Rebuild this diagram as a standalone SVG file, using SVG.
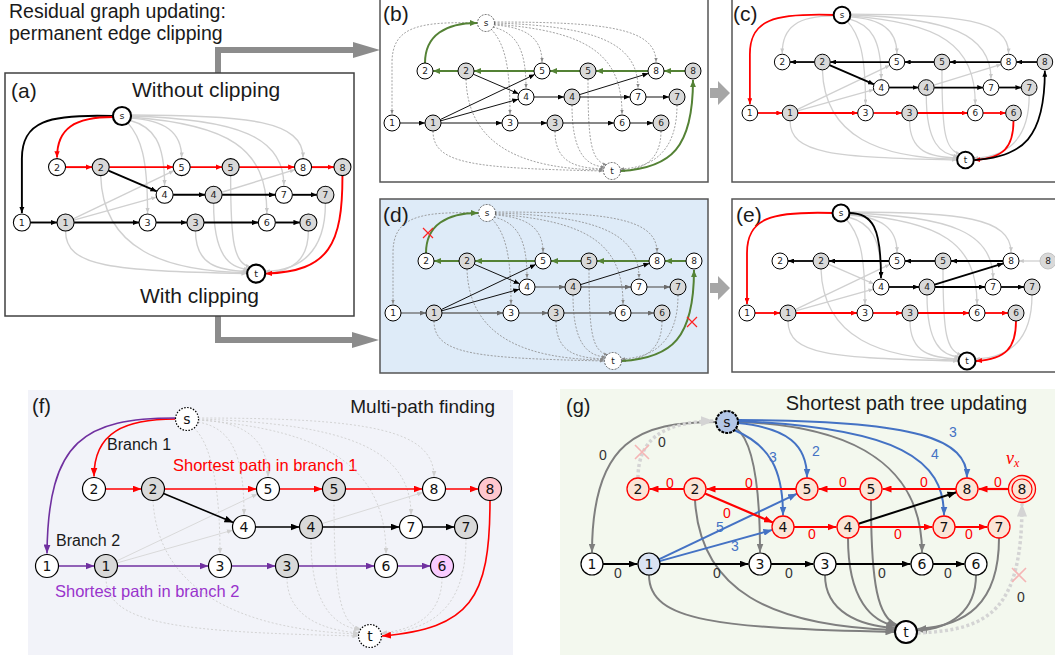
<svg xmlns="http://www.w3.org/2000/svg" width="1055" height="655" viewBox="0 0 1055 655">
<defs>
<style>
.t{font-family:"Liberation Sans",Arial,sans-serif;fill:#1a1a1a}
.nl{font-family:"DejaVu Sans",sans-serif;font-size:9px;text-anchor:middle;fill:#222}
.nL{font-family:"DejaVu Sans",sans-serif;font-size:14px;text-anchor:middle;fill:#111}
.el{font-family:"Liberation Sans",Arial,sans-serif;font-size:14px;text-anchor:middle}
.w{fill:#fff;stroke:#000;stroke-width:1}
.gy{fill:#d9d9d9;stroke:#000;stroke-width:1}
.thk{fill:#fff;stroke:#000;stroke-width:2}
.dsn{fill:#fff;stroke:#444;stroke-width:0.8;stroke-dasharray:2 1.2}
.lt{fill:none;stroke:#d0d0d0;stroke-width:1.3;marker-end:url(#ml)}
.dg{fill:none;stroke:#8c8c8c;stroke-width:0.8;stroke-dasharray:2 1.5;marker-end:url(#md)}
.bk{fill:none;stroke:#000;stroke-width:1.8;marker-end:url(#mk)}
.bk1{fill:none;stroke:#111;stroke-width:1;marker-end:url(#mk)}
.dk{fill:none;stroke:#6a6a6a;stroke-width:1.3;marker-end:url(#mdk)}
.rd{fill:none;stroke:#f00;stroke-width:1.8;marker-end:url(#mr)}
.gr{fill:none;stroke:#548235;stroke-width:2;marker-end:url(#mg)}
.Lrd{fill:none;stroke:#f00;stroke-width:1.6;marker-end:url(#MR)}
.Lpu{fill:none;stroke:#7030a0;stroke-width:1.6;marker-end:url(#MP)}
.Lbk{fill:none;stroke:#000;stroke-width:1.6;marker-end:url(#MK)}
.Llt{fill:none;stroke:#d6d6d6;stroke-width:0.9;marker-end:url(#ML)}
.Ldt{fill:none;stroke:#cfcfcf;stroke-width:0.9;stroke-dasharray:2 2;marker-end:url(#ML)}
.Gr{fill:none;stroke:#f00;stroke-width:2.2;marker-end:url(#MR)}
.Gb{fill:none;stroke:#4472c4;stroke-width:2;marker-end:url(#MB)}
.Gk{fill:none;stroke:#000;stroke-width:2;marker-end:url(#MK)}
.Gg{fill:none;stroke:#7f7f7f;stroke-width:2;marker-end:url(#MG)}
.Gd{fill:none;stroke:#d4d4d4;stroke-width:3.5;stroke-dasharray:3 2.5;marker-end:url(#GL)}
.x{stroke:#f22;stroke-width:1.2;fill:none}
.px{stroke:#f5b5b5;stroke-width:1.6;fill:none}
.rn{fill:#fbe5d6;stroke:#f00;stroke-width:1.3}
.fn{fill:#fff;stroke:#000;stroke-width:1.2}
.fg{fill:#d9d9d9;stroke:#000;stroke-width:1.2}
.fd{fill:#fff;stroke:#000;stroke-width:1.2;stroke-dasharray:1.5 1.5}
</style>
<marker id="mk" viewBox="0 0 6 5" refX="6" refY="2.5" markerWidth="6" markerHeight="5" markerUnits="userSpaceOnUse" orient="auto"><path d="M0,0 L6,2.5 L0,5z" fill="#000"/></marker>
<marker id="mr" viewBox="0 0 6 5" refX="6" refY="2.5" markerWidth="6" markerHeight="5" markerUnits="userSpaceOnUse" orient="auto"><path d="M0,0 L6,2.5 L0,5z" fill="#f00"/></marker>
<marker id="mg" viewBox="0 0 6 5" refX="6" refY="2.5" markerWidth="7" markerHeight="6" markerUnits="userSpaceOnUse" orient="auto"><path d="M0,0 L6,2.5 L0,5z" fill="#548235"/></marker>
<marker id="ml" viewBox="0 0 6 5" refX="6" refY="2.5" markerWidth="5" markerHeight="4" markerUnits="userSpaceOnUse" orient="auto"><path d="M0,0 L6,2.5 L0,5z" fill="#c8c8c8"/></marker>
<marker id="md" viewBox="0 0 6 5" refX="6" refY="2.5" markerWidth="4" markerHeight="3.5" markerUnits="userSpaceOnUse" orient="auto"><path d="M0,0 L6,2.5 L0,5z" fill="#888"/></marker>
<marker id="mdk" viewBox="0 0 6 5" refX="6" refY="2.5" markerWidth="6" markerHeight="5" markerUnits="userSpaceOnUse" orient="auto"><path d="M0,0 L6,2.5 L0,5z" fill="#6a6a6a"/></marker>
<marker id="MK" viewBox="0 0 9 7" refX="9" refY="3.5" markerWidth="9" markerHeight="7" markerUnits="userSpaceOnUse" orient="auto"><path d="M0,0 L9,3.5 L0,7z" fill="#000"/></marker>
<marker id="MR" viewBox="0 0 9 7" refX="9" refY="3.5" markerWidth="9" markerHeight="7" markerUnits="userSpaceOnUse" orient="auto"><path d="M0,0 L9,3.5 L0,7z" fill="#f00"/></marker>
<marker id="MP" viewBox="0 0 9 7" refX="9" refY="3.5" markerWidth="9" markerHeight="7" markerUnits="userSpaceOnUse" orient="auto"><path d="M0,0 L9,3.5 L0,7z" fill="#7030a0"/></marker>
<marker id="ML" viewBox="0 0 9 7" refX="9" refY="3.5" markerWidth="6" markerHeight="5" markerUnits="userSpaceOnUse" orient="auto"><path d="M0,0 L9,3.5 L0,7z" fill="#cfcfcf"/></marker>
<marker id="MB" viewBox="0 0 9 7" refX="9" refY="3.5" markerWidth="9" markerHeight="7" markerUnits="userSpaceOnUse" orient="auto"><path d="M0,0 L9,3.5 L0,7z" fill="#4472c4"/></marker>
<marker id="MG" viewBox="0 0 9 7" refX="9" refY="3.5" markerWidth="9" markerHeight="7" markerUnits="userSpaceOnUse" orient="auto"><path d="M0,0 L9,3.5 L0,7z" fill="#7f7f7f"/></marker>
<marker id="GL" viewBox="0 0 9 7" refX="9" refY="3.5" markerWidth="13" markerHeight="11" markerUnits="userSpaceOnUse" orient="auto"><path d="M0,0 L9,3.5 L0,7z" fill="#d4d4d4"/></marker>
<g id="GS">
<path d="M8,2 C40,4 56,15 56,39"/>
<path d="M7,4 C30,10 40,25 40,65"/>
<path d="M5,6 C18,20 24,40 24,91"/>
<path d="M8,-1 C120,-1 170,5 170,39"/>
<path d="M8,0 C110,3 152,20 152,65"/>
<path d="M8,1 C100,8 136,30 136,91"/>
</g>
<g id="GT">
<path d="M-53,108 C-53,142 -10,145 117,148"/>
<path d="M-20,56 C-18,125 40,146 117,147"/>
<path d="M69,108 C69,140 90,145 118,146"/>
<path d="M86,82 C86,130 100,143 119,144"/>
<path d="M102,56 C102,120 105,138 121,142"/>
<path d="M191,82 C191,130 165,145 134,146"/>
</g>
<g id="R48R"><path d="M-53,48 L-28,48"/><path d="M-12,48 L48,48"/><path d="M64,48 L94,48"/><path d="M110,48 L162,48"/><path d="M178,48 L199,48"/></g>
<g id="R48L"><path d="M162,48 L110,48"/><path d="M94,48 L64,48"/><path d="M48,48 L-12,48"/><path d="M-28,48 L-53,48"/></g>
<g id="R74"><path d="M48,74 L78,74"/><path d="M94,74 L144,74"/><path d="M160,74 L183,74"/></g>
<g id="R100"><path d="M-86,100 L-61,100"/><path d="M-45,100 L16,100"/><path d="M32,100 L61,100"/><path d="M77,100 L128,100"/><path d="M144,100 L167,100"/></g>
<g id="D1"><path d="M-45.8,96.6 L48.8,51.4"/><path d="M-45.3,97.8 L32.3,76.2"/></g>
</defs>

<rect width="1055" height="655" fill="#fff"/>

<!-- title and panel arrows -->
<text class="t" x="9" y="18" font-size="19.5">Residual graph updating:</text>
<text class="t" x="9" y="40" font-size="19.5">permanent edge clipping</text>
<g id="panel-arrows">
<path d="M218,73 V50 H356" stroke="#8c8c8c" stroke-width="6" fill="none"/>
<path d="M353,42 L380,50 L353,58z" fill="#8c8c8c"/>
<path d="M218,316 V340 H355" stroke="#8c8c8c" stroke-width="6" fill="none"/>
<path d="M352,332 L379,340 L352,348z" fill="#8c8c8c"/>
<path d="M710,88 L718,88 L718,81 L730,93 L718,105 L718,98 L710,98z" fill="#a6a6a6"/>
<path d="M710,283 L718,283 L718,276 L730,288 L718,300 L718,293 L710,293z" fill="#a6a6a6"/>
</g>

<!-- panel a -->
<rect x="5" y="73" width="349" height="243" fill="#fff" stroke="#404040" stroke-width="1.5"/>
<text class="t" x="11" y="98" font-size="21">(a)</text>
<text class="t" x="132" y="97" font-size="21">Without clipping</text>
<text class="t" x="140" y="303" font-size="21">With clipping</text>
<g id="panel-a" transform="translate(122,116) scale(1.065)">
<g id="a-connectors">
<use href="#GS" class="lt"/>
<use href="#GT" class="lt"/>
<path class="lt" d="M175,108 C175,135 160,146 135,148"/>
<use href="#D1" class="lt"/>
<path class="lt" d="M93.6,71.6 L162.4,50.4"/>
<path class="bk" d="M-8,0 C-70,-2 -94,5 -94,40 L-94,91"/>
<path class="rd" d="M-8,1 C-45,1 -61,12 -61,39"/>
<path class="bk" d="M-12.7,51.2 L32.7,70.8"/>
<use href="#R48R" class="rd"/>
<use href="#R74" class="bk"/>
<use href="#R100" class="bk"/>
<path class="rd" d="M207,56 C207,120 195,146 135,148"/>
</g>
<g id="a-s"><circle class="thk" cx="0" cy="0" r="8.5"/><text class="nl" x="0" y="3.2" font-size="10">s</text></g>
<g id="a-2w"><circle class="w" cx="-61" cy="48" r="8"/><text class="nl" x="-61" y="51.2">2</text></g>
<g id="a-2g"><circle class="gy" cx="-20" cy="48" r="8"/><text class="nl" x="-20" y="51.2">2</text></g>
<g id="a-5w"><circle class="w" cx="56" cy="48" r="8"/><text class="nl" x="56" y="51.2">5</text></g>
<g id="a-5g"><circle class="gy" cx="102" cy="48" r="8"/><text class="nl" x="102" y="51.2">5</text></g>
<g id="a-8w"><circle class="w" cx="170" cy="48" r="8"/><text class="nl" x="170" y="51.2">8</text></g>
<g id="a-8g"><circle class="gy" cx="207" cy="48" r="8"/><text class="nl" x="207" y="51.2">8</text></g>
<g id="a-4w"><circle class="w" cx="40" cy="74" r="8"/><text class="nl" x="40" y="77.2">4</text></g>
<g id="a-4g"><circle class="gy" cx="86" cy="74" r="8"/><text class="nl" x="86" y="77.2">4</text></g>
<g id="a-7w"><circle class="w" cx="152" cy="74" r="8"/><text class="nl" x="152" y="77.2">7</text></g>
<g id="a-7g"><circle class="gy" cx="191" cy="74" r="8"/><text class="nl" x="191" y="77.2">7</text></g>
<g id="a-1w"><circle class="w" cx="-94" cy="100" r="8"/><text class="nl" x="-94" y="103.2">1</text></g>
<g id="a-1g"><circle class="gy" cx="-53" cy="100" r="8"/><text class="nl" x="-53" y="103.2">1</text></g>
<g id="a-3w"><circle class="w" cx="24" cy="100" r="8"/><text class="nl" x="24" y="103.2">3</text></g>
<g id="a-3g"><circle class="gy" cx="69" cy="100" r="8"/><text class="nl" x="69" y="103.2">3</text></g>
<g id="a-6w"><circle class="w" cx="136" cy="100" r="8"/><text class="nl" x="136" y="103.2">6</text></g>
<g id="a-6g"><circle class="gy" cx="175" cy="100" r="8"/><text class="nl" x="175" y="103.2">6</text></g>
<g id="a-t"><circle class="thk" cx="126" cy="148" r="8.5"/><text class="nl" x="126" y="151.2" font-size="10">t</text></g>
</g>

<!-- panel b -->
<rect x="380" y="-1" width="328" height="183" fill="#fff" stroke="#555" stroke-width="1.5"/>
<text class="t" x="383" y="21" font-size="21">(b)</text>
<g id="panel-b" transform="translate(486,23)">
<g id="b-connectors">
<path class="dg" d="M-8,0 C-70,-2 -94,5 -94,40 L-94,91"/>
<use href="#GS" class="dg"/>
<use href="#GT" class="dg"/>
<path class="dg" d="M175,108 C175,135 160,146 135,148"/>
<use href="#D1" class="bk1"/>
<path class="bk1" d="M93.6,71.6 L162.4,50.4"/>
<path class="bk1" d="M-12.7,51.2 L32.7,70.8"/>
<use href="#R74" class="bk1"/>
<use href="#R100" class="bk1"/>
<use href="#R48L" class="gr"/>
<path class="gr" d="M199,48 L178,48"/>
<path class="gr" d="M-61,40 C-61,12 -40,0 -9,0"/>
<path class="gr" d="M135,148 C185,145 207,125 207,57"/>
</g>
<g id="b-s"><circle class="dsn" cx="0" cy="0" r="8.5"/><text class="nl" x="0" y="3.2" font-size="10">s</text></g>
<g id="b-2w"><circle class="w" cx="-61" cy="48" r="8"/><text class="nl" x="-61" y="51.2">2</text></g>
<g id="b-2g"><circle class="gy" cx="-20" cy="48" r="8"/><text class="nl" x="-20" y="51.2">2</text></g>
<g id="b-5w"><circle class="w" cx="56" cy="48" r="8"/><text class="nl" x="56" y="51.2">5</text></g>
<g id="b-5g"><circle class="gy" cx="102" cy="48" r="8"/><text class="nl" x="102" y="51.2">5</text></g>
<g id="b-8w"><circle class="w" cx="170" cy="48" r="8"/><text class="nl" x="170" y="51.2">8</text></g>
<g id="b-8g"><circle class="gy" cx="207" cy="48" r="8"/><text class="nl" x="207" y="51.2">8</text></g>
<g id="b-4w"><circle class="w" cx="40" cy="74" r="8"/><text class="nl" x="40" y="77.2">4</text></g>
<g id="b-4g"><circle class="gy" cx="86" cy="74" r="8"/><text class="nl" x="86" y="77.2">4</text></g>
<g id="b-7w"><circle class="w" cx="152" cy="74" r="8"/><text class="nl" x="152" y="77.2">7</text></g>
<g id="b-7g"><circle class="gy" cx="191" cy="74" r="8"/><text class="nl" x="191" y="77.2">7</text></g>
<g id="b-1w"><circle class="w" cx="-94" cy="100" r="8"/><text class="nl" x="-94" y="103.2">1</text></g>
<g id="b-1g"><circle class="gy" cx="-53" cy="100" r="8"/><text class="nl" x="-53" y="103.2">1</text></g>
<g id="b-3w"><circle class="w" cx="24" cy="100" r="8"/><text class="nl" x="24" y="103.2">3</text></g>
<g id="b-3g"><circle class="gy" cx="69" cy="100" r="8"/><text class="nl" x="69" y="103.2">3</text></g>
<g id="b-6w"><circle class="w" cx="136" cy="100" r="8"/><text class="nl" x="136" y="103.2">6</text></g>
<g id="b-6g"><circle class="gy" cx="175" cy="100" r="8"/><text class="nl" x="175" y="103.2">6</text></g>
<g id="b-t"><circle class="dsn" cx="126" cy="148" r="8.5"/><text class="nl" x="126" y="151.2" font-size="10">t</text></g>
</g>

<!-- panel c -->
<rect x="732" y="-1" width="330" height="183" fill="#fff" stroke="#555" stroke-width="1.5"/>
<text class="t" x="733" y="21" font-size="21">(c)</text>
<g id="panel-c" transform="translate(842,15) scale(0.98)">
<g id="c-connectors">
<path class="lt" d="M-8,1 C-45,1 -61,12 -61,39"/>
<use href="#GS" class="lt"/>
<use href="#GT" class="lt"/>
<use href="#D1" class="lt"/>
<path class="lt" d="M93.6,71.6 L162.4,50.4"/>
<path class="rd" d="M-8,0 C-70,-2 -94,5 -94,40 L-94,91"/>
<use href="#R48L" class="bk"/>
<path class="bk" d="M199,48 L178,48"/>
<path class="bk" d="M-12.7,51.2 L32.7,70.8"/>
<use href="#R74" class="bk"/>
<use href="#R100" class="rd"/>
<path class="rd" d="M175,108 C175,135 165,146 135,148"/>
<path class="bk" d="M135,148 C185,145 207,125 207,57"/>
</g>
<g id="c-s"><circle class="thk" cx="0" cy="0" r="8.5"/><text class="nl" x="0" y="3.2" font-size="10">s</text></g>
<g id="c-2w"><circle class="w" cx="-61" cy="48" r="8"/><text class="nl" x="-61" y="51.2">2</text></g>
<g id="c-2g"><circle class="gy" cx="-20" cy="48" r="8"/><text class="nl" x="-20" y="51.2">2</text></g>
<g id="c-5w"><circle class="w" cx="56" cy="48" r="8"/><text class="nl" x="56" y="51.2">5</text></g>
<g id="c-5g"><circle class="gy" cx="102" cy="48" r="8"/><text class="nl" x="102" y="51.2">5</text></g>
<g id="c-8w"><circle class="w" cx="170" cy="48" r="8"/><text class="nl" x="170" y="51.2">8</text></g>
<g id="c-8g"><circle class="gy" cx="207" cy="48" r="8"/><text class="nl" x="207" y="51.2">8</text></g>
<g id="c-4w"><circle class="w" cx="40" cy="74" r="8"/><text class="nl" x="40" y="77.2">4</text></g>
<g id="c-4g"><circle class="gy" cx="86" cy="74" r="8"/><text class="nl" x="86" y="77.2">4</text></g>
<g id="c-7w"><circle class="w" cx="152" cy="74" r="8"/><text class="nl" x="152" y="77.2">7</text></g>
<g id="c-7g"><circle class="gy" cx="191" cy="74" r="8"/><text class="nl" x="191" y="77.2">7</text></g>
<g id="c-1w"><circle class="w" cx="-94" cy="100" r="8"/><text class="nl" x="-94" y="103.2">1</text></g>
<g id="c-1g"><circle class="gy" cx="-53" cy="100" r="8"/><text class="nl" x="-53" y="103.2">1</text></g>
<g id="c-3w"><circle class="w" cx="24" cy="100" r="8"/><text class="nl" x="24" y="103.2">3</text></g>
<g id="c-3g"><circle class="gy" cx="69" cy="100" r="8"/><text class="nl" x="69" y="103.2">3</text></g>
<g id="c-6w"><circle class="w" cx="136" cy="100" r="8"/><text class="nl" x="136" y="103.2">6</text></g>
<g id="c-6g"><circle class="gy" cx="175" cy="100" r="8"/><text class="nl" x="175" y="103.2">6</text></g>
<g id="c-t"><circle class="thk" cx="126" cy="148" r="8.5"/><text class="nl" x="126" y="151.2" font-size="10">t</text></g>
</g>

<!-- panel d -->
<rect x="380" y="199" width="328" height="174" fill="#deebf8" stroke="#555" stroke-width="1.5"/>
<text class="t" x="383" y="222" font-size="21">(d)</text>
<g id="panel-d" transform="translate(487,213)">
<g id="d-connectors">
<path class="dg" d="M-8,0 C-70,-2 -94,5 -94,40 L-94,91"/>
<use href="#GS" class="dg"/>
<use href="#GT" class="dg"/>
<path class="dg" d="M175,108 C175,135 160,146 135,148"/>
<use href="#D1" class="bk1"/>
<path class="bk1" d="M93.6,71.6 L162.4,50.4"/>
<path class="bk1" d="M-12.7,51.2 L32.7,70.8"/>
<use href="#R74" class="dk"/>
<use href="#R100" class="dk"/>
<use href="#R48L" class="gr"/>
<path class="gr" d="M199,48 L178,48"/>
<path class="gr" d="M-61,40 C-61,12 -40,0 -9,0"/>
<path class="gr" d="M135,148 C185,145 207,125 207,57"/>
<path class="x" d="M-64,15 L-54,25 M-64,25 L-54,15"/>
<path class="x" d="M200,104 L210,114 M200,114 L210,104"/>
</g>
<g id="d-s"><circle class="dsn" cx="0" cy="0" r="8.5"/><text class="nl" x="0" y="3.2" font-size="10">s</text></g>
<g id="d-2w"><circle class="w" cx="-61" cy="48" r="8"/><text class="nl" x="-61" y="51.2">2</text></g>
<g id="d-2g"><circle class="gy" cx="-20" cy="48" r="8"/><text class="nl" x="-20" y="51.2">2</text></g>
<g id="d-5w"><circle class="w" cx="56" cy="48" r="8"/><text class="nl" x="56" y="51.2">5</text></g>
<g id="d-5g"><circle class="gy" cx="102" cy="48" r="8"/><text class="nl" x="102" y="51.2">5</text></g>
<g id="d-8w"><circle class="w" cx="170" cy="48" r="8"/><text class="nl" x="170" y="51.2">8</text></g>
<g id="d-8g"><circle class="w" cx="207" cy="48" r="8"/><text class="nl" x="207" y="51.2">8</text></g>
<g id="d-4w"><circle class="w" cx="40" cy="74" r="8"/><text class="nl" x="40" y="77.2">4</text></g>
<g id="d-4g"><circle class="gy" cx="86" cy="74" r="8"/><text class="nl" x="86" y="77.2">4</text></g>
<g id="d-7w"><circle class="w" cx="152" cy="74" r="8"/><text class="nl" x="152" y="77.2">7</text></g>
<g id="d-7g"><circle class="gy" cx="191" cy="74" r="8"/><text class="nl" x="191" y="77.2">7</text></g>
<g id="d-1w"><circle class="w" cx="-94" cy="100" r="8"/><text class="nl" x="-94" y="103.2">1</text></g>
<g id="d-1g"><circle class="gy" cx="-53" cy="100" r="8"/><text class="nl" x="-53" y="103.2">1</text></g>
<g id="d-3w"><circle class="w" cx="24" cy="100" r="8"/><text class="nl" x="24" y="103.2">3</text></g>
<g id="d-3g"><circle class="gy" cx="69" cy="100" r="8"/><text class="nl" x="69" y="103.2">3</text></g>
<g id="d-6w"><circle class="w" cx="136" cy="100" r="8"/><text class="nl" x="136" y="103.2">6</text></g>
<g id="d-6g"><circle class="gy" cx="175" cy="100" r="8"/><text class="nl" x="175" y="103.2">6</text></g>
<g id="d-t"><circle class="dsn" cx="126" cy="148" r="8.5"/><text class="nl" x="126" y="151.2" font-size="10">t</text></g>
</g>

<!-- panel e -->
<rect x="732" y="199" width="330" height="173" fill="#fff" stroke="#555" stroke-width="1.5"/>
<text class="t" x="736" y="222" font-size="21">(e)</text>
<g id="panel-e" transform="translate(841,213)">
<g id="e-connectors">
<use href="#GS" class="lt"/>
<use href="#GT" class="lt"/>
<use href="#D1" class="lt"/>
<path class="lt" d="M-12.7,51.2 L32.7,70.8"/>
<path class="lt" d="M199,48 L178,48"/>
<path class="rd" d="M-8,0 C-70,-2 -94,5 -94,40 L-94,91"/>
<path class="bk" d="M8,0 C32,0 40,15 40,65"/>
<use href="#R48L" class="bk"/>
<path class="bk" d="M93.6,71.6 L162.4,50.4"/>
<use href="#R74" class="bk"/>
<use href="#R100" class="rd"/>
<path class="rd" d="M175,108 C175,135 165,146 135,148"/>
</g>
<g id="e-s"><circle class="thk" cx="0" cy="0" r="8.5"/><text class="nl" x="0" y="3.2" font-size="10">s</text></g>
<g id="e-2w"><circle class="w" cx="-61" cy="48" r="8"/><text class="nl" x="-61" y="51.2">2</text></g>
<g id="e-2g"><circle class="gy" cx="-20" cy="48" r="8"/><text class="nl" x="-20" y="51.2">2</text></g>
<g id="e-5w"><circle class="w" cx="56" cy="48" r="8"/><text class="nl" x="56" y="51.2">5</text></g>
<g id="e-5g"><circle class="gy" cx="102" cy="48" r="8"/><text class="nl" x="102" y="51.2">5</text></g>
<g id="e-8w"><circle class="w" cx="170" cy="48" r="8"/><text class="nl" x="170" y="51.2">8</text></g>
<g id="e-8g"><circle cx="207" cy="48" r="8" fill="#d9d9d9" stroke="#c4c4c4"/><text class="nl" x="207" y="51.2">8</text></g>
<g id="e-4w"><circle class="w" cx="40" cy="74" r="8"/><text class="nl" x="40" y="77.2">4</text></g>
<g id="e-4g"><circle class="gy" cx="86" cy="74" r="8"/><text class="nl" x="86" y="77.2">4</text></g>
<g id="e-7w"><circle class="w" cx="152" cy="74" r="8"/><text class="nl" x="152" y="77.2">7</text></g>
<g id="e-7g"><circle class="gy" cx="191" cy="74" r="8"/><text class="nl" x="191" y="77.2">7</text></g>
<g id="e-1w"><circle class="w" cx="-94" cy="100" r="8"/><text class="nl" x="-94" y="103.2">1</text></g>
<g id="e-1g"><circle class="gy" cx="-53" cy="100" r="8"/><text class="nl" x="-53" y="103.2">1</text></g>
<g id="e-3w"><circle class="w" cx="24" cy="100" r="8"/><text class="nl" x="24" y="103.2">3</text></g>
<g id="e-3g"><circle class="gy" cx="69" cy="100" r="8"/><text class="nl" x="69" y="103.2">3</text></g>
<g id="e-6w"><circle class="w" cx="136" cy="100" r="8"/><text class="nl" x="136" y="103.2">6</text></g>
<g id="e-6g"><circle class="gy" cx="175" cy="100" r="8"/><text class="nl" x="175" y="103.2">6</text></g>
<g id="e-t"><circle class="thk" cx="126" cy="148" r="8.5"/><text class="nl" x="126" y="151.2" font-size="10">t</text></g>
</g>

<!-- panel f -->
<rect x="28" y="390" width="485" height="265" fill="#f2f3f9"/>
<text class="t" x="32" y="413" font-size="20">(f)</text>
<text class="t" x="495" y="413" font-size="19" text-anchor="end">Multi-path finding</text>
<text class="t" x="107" y="450" font-size="16">Branch 1</text>
<text class="t" x="173" y="471" font-size="16.5" style="fill:#f00">Shortest path in branch 1</text>
<text class="t" x="56" y="546" font-size="16">Branch 2</text>
<text class="t" x="55" y="597" font-size="16.5" style="fill:#9933cc">Shortest path in branch 2</text>
<g id="f-connectors">
<path class="Ldt" d="M198,420 C245,421 268,440 268,477"/>
<path class="Ldt" d="M198,422 C232,428 244,455 244,515"/>
<path class="Ldt" d="M194,428 C212,445 220,490 220,554"/>
<path class="Ldt" d="M198,418 C370,418 434,430 434,477"/>
<path class="Ldt" d="M198,419 C350,424 411,450 411,515"/>
<path class="Ldt" d="M198,420 C330,430 386,470 386,554"/>
<path class="Ldt" d="M106,577.5 C106,625 180,632 358.5,636"/>
<path class="Ldt" d="M153,500.5 C158,590 240,630 359,634"/>
<path class="Ldt" d="M287,577.5 C287,615 320,630 359,633"/>
<path class="Ldt" d="M311,538.5 C311,600 330,625 360,630"/>
<path class="Ldt" d="M334,500.5 C334,590 340,625 361,629"/>
<path class="Ldt" d="M442,577.5 C442,615 415,630 381,633"/>
<path class="Ldt" d="M466,538.5 C466,610 430,630 381,634"/>
<path class="Llt" d="M116.4,561.1 L257.6,493.9"/>
<path class="Llt" d="M117.1,562.9 L232.9,530.1"/>
<path class="Llt" d="M322,523.6 L423,492.4"/>
<path class="Lrd" d="M175.5,419 C125,419 94,432 94,476.5"/>
<path class="Lpu" d="M175.5,418 C85,418 48,440 47,553.5"/>
<path class="Lrd" d="M105.5,489 L141.5,489"/>
<path class="Lrd" d="M164.5,489 L256.5,489"/>
<path class="Lrd" d="M279.5,489 L322.5,489"/>
<path class="Lrd" d="M345.5,489 L422.5,489"/>
<path class="Lrd" d="M445.5,489 L478.5,489"/>
<path class="Lrd" d="M490,500.5 C490,600 470,628 382,636"/>
<path class="Lbk" d="M163.6,493.4 L233.4,522.6"/>
<path class="Lbk" d="M255.5,527 L299.5,527"/>
<path class="Lbk" d="M322.5,527 L399.5,527"/>
<path class="Lbk" d="M422.5,527 L454.5,527"/>
<path class="Lpu" d="M58.5,566 L94.5,566"/>
<path class="Lpu" d="M117.5,566 L208.5,566"/>
<path class="Lpu" d="M231.5,566 L275.5,566"/>
<path class="Lpu" d="M298.5,566 L374.5,566"/>
<path class="Lpu" d="M397.5,566 L430.5,566"/>
</g>
<g id="f-s"><circle class="fd" cx="187" cy="419" r="11.5"/><text class="nL" x="187" y="424">s</text></g>
<g id="f-2w"><circle class="fn" cx="94" cy="489" r="11.5"/><text class="nL" x="94" y="494">2</text></g>
<g id="f-2g"><circle class="fg" cx="153" cy="489" r="11.5"/><text class="nL" x="153" y="494">2</text></g>
<g id="f-5w"><circle class="fn" cx="268" cy="489" r="11.5"/><text class="nL" x="268" y="494">5</text></g>
<g id="f-5g"><circle class="fg" cx="334" cy="489" r="11.5"/><text class="nL" x="334" y="494">5</text></g>
<g id="f-8w"><circle class="fn" cx="434" cy="489" r="11.5"/><text class="nL" x="434" y="494">8</text></g>
<g id="f-8g"><circle cx="490" cy="489" r="11.5" fill="#ffc7ce" stroke="#000" stroke-width="1.2"/><text class="nL" x="490" y="494">8</text></g>
<g id="f-4w"><circle class="fn" cx="244" cy="527" r="11.5"/><text class="nL" x="244" y="532">4</text></g>
<g id="f-4g"><circle class="fg" cx="311" cy="527" r="11.5"/><text class="nL" x="311" y="532">4</text></g>
<g id="f-7w"><circle class="fn" cx="411" cy="527" r="11.5"/><text class="nL" x="411" y="532">7</text></g>
<g id="f-7g"><circle class="fg" cx="466" cy="527" r="11.5"/><text class="nL" x="466" y="532">7</text></g>
<g id="f-1w"><circle class="fn" cx="47" cy="566" r="11.5"/><text class="nL" x="47" y="571">1</text></g>
<g id="f-1g"><circle class="fg" cx="106" cy="566" r="11.5"/><text class="nL" x="106" y="571">1</text></g>
<g id="f-3w"><circle class="fn" cx="220" cy="566" r="11.5"/><text class="nL" x="220" y="571">3</text></g>
<g id="f-3g"><circle class="fg" cx="287" cy="566" r="11.5"/><text class="nL" x="287" y="571">3</text></g>
<g id="f-6w"><circle class="fn" cx="386" cy="566" r="11.5"/><text class="nL" x="386" y="571">6</text></g>
<g id="f-6g"><circle cx="442" cy="566" r="11.5" fill="#f9ccff" stroke="#000" stroke-width="1.2"/><text class="nL" x="442" y="571">6</text></g>
<g id="f-t"><circle class="fd" cx="370" cy="636" r="11.5"/><text class="nL" x="370" y="641">t</text></g>

<!-- panel g -->
<rect x="560" y="389" width="495" height="266" fill="#f3f8ee"/>
<text class="t" x="566" y="413" font-size="20">(g)</text>
<text class="t" x="1027" y="410" font-size="20" text-anchor="end">Shortest path tree updating</text>
<g id="g-connectors">
<path class="Gg" d="M649,575 C649,622 720,628 894.5,632"/>
<path class="Gg" d="M695,500 C700,590 770,626 894.5,630"/>
<path class="Gg" d="M825,575 C825,612 860,626 895,628"/>
<path class="Gg" d="M848,538 C848,600 872,622 896,626"/>
<path class="Gg" d="M871,500 C871,585 878,618 897,625"/>
<path class="Gg" d="M976,575 C976,612 950,628 917.5,631"/>
<path class="Gg" d="M999,538 C999,605 965,626 917.5,629"/>
<path class="Gg" d="M716,422 C640,422 592,440 592,552.5"/>
<path class="Gg" d="M736,428 C752,440 760,480 760,552.5"/>
<path class="Gg" d="M738,422 C860,426 922,470 922,552.5"/>
<path class="Gd" d="M638,478 C638,440 662,422 714,421"/>
<path class="Gd" d="M917.5,633 C990,630 1022,610 1022,503.5"/>
<path class="Gb" d="M738,423 C788,428 807,445 807,477.5"/>
<path class="Gb" d="M734,430 C770,445 783,470 783,515.5"/>
<path class="Gb" d="M738,420 C920,420 967,440 967,477.5"/>
<path class="Gb" d="M738,421 C900,428 944,460 944,515.5"/>
<path class="Gb" d="M658.9,559.3 L797.1,493.7"/>
<path class="Gb" d="M659.6,561.1 L772.4,529.9"/>
<path class="Gr" d="M684,489 L649.5,489"/>
<path class="Gr" d="M796,489 L706.5,489"/>
<path class="Gr" d="M860,489 L818.5,489"/>
<path class="Gr" d="M956,489 L882.5,489"/>
<path class="Gr" d="M1008.5,489 L978.5,489"/>
<path class="Gr" d="M705,493.4 L772.9,522.6"/>
<path class="Gr" d="M794,527 L836.5,527"/>
<path class="Gr" d="M859,527 L932.5,527"/>
<path class="Gr" d="M955,527 L987.5,527"/>
<path class="Gk" d="M858.5,523.7 L956.5,492.3"/>
<path class="Gk" d="M603,564 L637.5,564"/>
<path class="Gk" d="M660,564 L748.5,564"/>
<path class="Gk" d="M771,564 L813.5,564"/>
<path class="Gk" d="M836,564 L910.5,564"/>
<path class="Gk" d="M933,564 L964.5,564"/>
<path class="px" d="M635,445 L649,459 M635,459 L649,445"/>
<path class="px" d="M1012,568 L1026,582 M1012,582 L1026,568"/>
</g>
<g id="g-labels">
<text class="el" x="603" y="460" fill="#333">0</text>
<text class="el" x="662" y="447" fill="#333">0</text>
<text class="el" x="773" y="462" fill="#4472c4">3</text>
<text class="el" x="670" y="488" fill="#f00">0</text>
<text class="el" x="749" y="488" fill="#f00">0</text>
<text class="el" x="727" y="518" fill="#f00">0</text>
<text class="el" x="720" y="532" fill="#4472c4">5</text>
<text class="el" x="735" y="551" fill="#4472c4">3</text>
<text class="el" x="618" y="578" fill="#333">0</text>
<text class="el" x="717" y="578" fill="#333">0</text>
<text class="el" x="789" y="578" fill="#333">0</text>
<text class="el" x="816" y="456" fill="#4472c4">2</text>
<text class="el" x="953" y="437" fill="#4472c4">3</text>
<text class="el" x="935" y="459" fill="#4472c4">4</text>
<text class="el" x="843" y="487" fill="#f00">0</text>
<text class="el" x="924" y="487" fill="#f00">0</text>
<text class="el" x="998" y="487" fill="#f00">0</text>
<text class="el" x="812" y="539" fill="#f00">0</text>
<text class="el" x="898" y="539" fill="#f00">0</text>
<text class="el" x="969" y="539" fill="#f00">0</text>
<text class="el" x="882" y="578" fill="#333">0</text>
<text class="el" x="948" y="578" fill="#333">0</text>
<text class="el" x="1021" y="602" fill="#333">0</text>
<text x="1006" y="464" font-family="'Liberation Serif',serif" font-style="italic" font-size="18" fill="#f00">v<tspan font-size="12" dy="3">x</tspan></text>
</g>
<g id="g-s"><circle cx="727" cy="422" r="11" fill="#b4c7e7" stroke="#000" stroke-width="2" stroke-dasharray="3 1"/><text class="nL" x="727" y="427" font-size="13">s</text></g>
<g id="g-2a"><circle class="rn" cx="638" cy="489" r="11"/><text class="nL" x="638" y="494" font-size="13">2</text></g>
<g id="g-2b"><circle class="rn" cx="695" cy="489" r="11"/><text class="nL" x="695" y="494" font-size="13">2</text></g>
<g id="g-5a"><circle class="rn" cx="807" cy="489" r="11"/><text class="nL" x="807" y="494" font-size="13">5</text></g>
<g id="g-5b"><circle class="rn" cx="871" cy="489" r="11"/><text class="nL" x="871" y="494" font-size="13">5</text></g>
<g id="g-8a"><circle class="rn" cx="967" cy="489" r="11"/><text class="nL" x="967" y="494" font-size="13">8</text></g>
<g id="g-8x"><circle class="rn" cx="1022" cy="489" r="13.5"/><circle cx="1022" cy="489" r="10" fill="none" stroke="#f00" stroke-width="1.2"/><text class="nL" x="1022" y="494" font-size="13">8</text></g>
<g id="g-4a"><circle class="rn" cx="783" cy="527" r="11"/><text class="nL" x="783" y="532" font-size="13">4</text></g>
<g id="g-4b"><circle class="rn" cx="848" cy="527" r="11"/><text class="nL" x="848" y="532" font-size="13">4</text></g>
<g id="g-7a"><circle class="rn" cx="944" cy="527" r="11"/><text class="nL" x="944" y="532" font-size="13">7</text></g>
<g id="g-7b"><circle class="rn" cx="999" cy="527" r="11"/><text class="nL" x="999" y="532" font-size="13">7</text></g>
<g id="g-1a"><circle class="fn" cx="592" cy="564" r="11"/><text class="nL" x="592" y="569" font-size="13">1</text></g>
<g id="g-1b"><circle cx="649" cy="564" r="11" fill="#dae3f3" stroke="#000" stroke-width="1.2"/><text class="nL" x="649" y="569" font-size="13">1</text></g>
<g id="g-3a"><circle class="fn" cx="760" cy="564" r="11"/><text class="nL" x="760" y="569" font-size="13">3</text></g>
<g id="g-3b"><circle class="fn" cx="825" cy="564" r="11"/><text class="nL" x="825" y="569" font-size="13">3</text></g>
<g id="g-6a"><circle class="fn" cx="922" cy="564" r="11"/><text class="nL" x="922" y="569" font-size="13">6</text></g>
<g id="g-6b"><circle class="fn" cx="976" cy="564" r="11"/><text class="nL" x="976" y="569" font-size="13">6</text></g>
<g id="g-t"><circle cx="906" cy="632" r="11" fill="#fff" stroke="#000" stroke-width="2"/><text class="nL" x="906" y="637" font-size="13">t</text></g>
</svg>
